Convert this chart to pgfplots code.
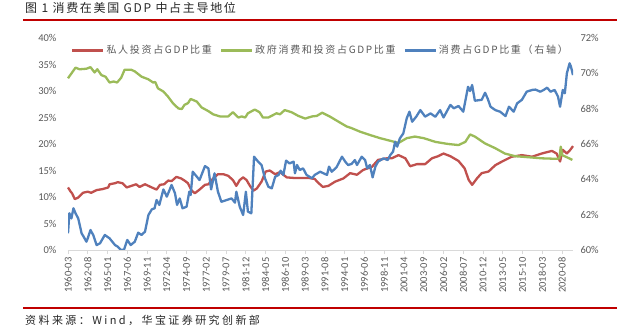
\documentclass[border=0pt]{standalone}
\usepackage{fontspec}
\setmainfont{Carlito}
\newfontfamily\cjk[LetterSpace=6]{Noto Sans CJK SC}
\newfontfamily\cjkleg[LetterSpace=17]{Noto Sans CJK SC}
\newfontfamily\cjktitle[LetterSpace=14]{Noto Sans CJK SC}
\newfontfamily\cjksrc[LetterSpace=22]{Noto Sans CJK SC}
\usepackage{pgfplots}
\pgfplotsset{compat=1.18}
\definecolor{cred}{HTML}{C0504D}
\definecolor{cgreen}{HTML}{9BBB59}
\definecolor{cblue}{HTML}{4F81BD}
\definecolor{tgray}{HTML}{595959}
\definecolor{agray}{HTML}{D9D9D9}
\definecolor{hred}{HTML}{C00000}

\pgfplotstableread{
m v
0 11.8
4 11.0
6 10.7
10 9.6
15 9.9
22 10.8
29 11.0
34 10.8
42 11.3
51 11.5
59 11.8
61 12.4
69 12.6
73 12.8
80 12.6
86 11.8
93 12.1
100 12.4
105 11.9
113 12.4
123 11.8
130 11.4
135 12.3
141 12.4
147 13.1
152 13.0
159 13.8
166 13.5
171 13.1
176 12.6
181 11.3
186 10.7
193 11.4
201 12.3
206 12.4
213 13.5
220 14.3
228 14.3
235 14.0
242 13.2
247 12.1
252 13.2
257 13.7
262 13.2
267 12.1
272 11.2
277 11.6
284 12.9
290 14.8
296 15.0
304 14.3
311 14.7
321 13.7
331 13.6
340 13.6
353 13.6
362 13.4
367 12.7
374 11.9
382 12.1
392 12.9
404 13.5
414 14.5
424 14.2
433 15.1
446 15.7
455 17.0
468 17.3
475 17.3
485 17.9
495 17.3
502 15.8
512 16.2
524 16.2
534 17.3
543 17.7
551 18.2
561 17.7
573 16.8
582 15.4
588 13.2
593 12.3
600 13.5
607 14.5
617 14.8
627 16.0
637 16.7
651 17.6
666 17.9
681 17.6
695 18.2
710 18.7
717 18.2
722 16.7
726 18.9
732 18.2
737 18.9
741 19.6
}\redtab

\pgfplotstableread{
m v
0 32.4
11 34.4
17 34.1
27 34.2
33 34.5
39 33.5
43 34.1
49 33.0
55 32.7
61 31.6
67 31.8
72 31.6
78 32.5
83 34.0
93 34.0
98 33.7
108 32.7
118 32.2
125 31.6
128 31.7
132 30.5
140 29.9
147 28.9
154 27.7
162 26.7
167 26.6
171 27.4
176 27.7
180 28.5
189 28.0
196 26.9
206 26.2
213 25.6
223 25.2
235 25.2
242 26.0
250 25.0
255 25.2
260 25.0
264 25.8
274 26.5
281 26.0
286 25.0
294 25.0
306 25.8
311 25.6
318 26.4
328 26.0
338 25.3
348 24.8
358 25.2
365 25.3
373 25.9
384 25.2
397 24.2
409 23.3
416 23.0
429 22.3
443 21.7
458 21.1
473 20.6
485 20.2
497 21.1
509 21.4
522 21.1
539 20.4
558 20.0
573 19.8
583 20.4
590 21.8
597 21.4
612 20.1
627 19.2
641 18.2
656 17.7
676 17.5
695 17.3
717 17.2
721 17.3
723 19.5
725 17.9
732 17.5
740 17.0
}\greentab

\pgfplotstableread{
m v
0 60.94
2 62.08
5 61.79
8 62.36
11 62.08
15 61.79
20 60.94
23 60.75
27 60.47
29 60.66
33 61.13
37 60.85
42 60.28
47 60.38
54 60.85
61 60.66
69 60.28
73 60.19
77 60.02
82 60.00
87 60.57
92 60.28
98 60.47
103 60.98
108 60.85
113 61.04
118 61.98
123 62.30
127 62.36
130 62.83
134 62.55
140 63.43
145 63.02
152 63.68
157 63.21
160 62.55
164 62.92
168 62.36
174 62.45
178 63.30
180 63.11
183 64.43
189 64.15
193 63.96
201 64.75
206 64.62
210 63.43
215 64.34
220 63.30
225 62.73
233 62.83
240 62.92
245 62.68
247 63.30
252 62.45
257 61.98
261 63.30
264 62.17
269 62.08
273 65.28
279 65.00
284 64.81
289 64.06
294 63.58
299 63.49
304 64.15
309 64.25
312 64.49
316 64.25
320 65.06
325 64.90
331 65.00
333 64.34
336 64.81
340 64.53
345 64.62
350 64.25
358 64.06
362 64.25
370 64.43
380 64.25
383 64.72
387 64.43
394 64.68
402 65.28
407 64.99
411 64.81
416 64.87
421 65.09
424 64.81
431 65.28
436 65.09
439 64.62
443 64.81
447 64.11
451 64.72
455 65.00
463 65.19
469 65.09
473 65.38
477 65.57
480 66.13
483 65.85
487 66.32
492 66.60
497 67.45
501 67.83
505 67.26
511 67.55
517 67.92
524 67.55
532 67.73
539 67.54
546 67.92
551 67.50
561 68.21
566 68.02
573 68.15
580 67.83
587 69.24
590 69.00
593 69.34
597 68.45
607 68.50
612 68.90
616 68.55
620 68.11
627 67.92
634 67.83
642 67.58
647 68.11
654 67.83
659 68.30
666 68.50
673 68.96
681 69.06
686 69.08
693 68.96
698 69.06
703 69.19
708 68.96
714 69.06
719 68.68
722 68.11
726 69.06
729 68.87
732 70.00
736 70.57
738 70.38
741 69.90
}\bluetab

\begin{document}
\begin{tikzpicture}[x=1pt,y=1pt]
\path[use as bounding box] (0,0) rectangle (625,330);
\node[anchor=west, font=\cjktitle\fontsize{12}{12}\selectfont, text=black!85, inner sep=0] at (25,322) {图 1 消费在美国 GDP 中占主导地位};
\draw[hred, line width=1.5pt] (23,310) -- (617,310);
\draw[hred, line width=1.2pt] (23,22) -- (617,22);
\node[anchor=west, font=\cjksrc\fontsize{11}{11}\selectfont, text=black!85, inner sep=0] at (25,10) {资料来源：Wind，华宝证券研究创新部};

\pgfplotsset{every axis/.append style={
  scale only axis, width=505pt, height=212pt,
  at={(68pt,80pt)}, anchor=south west,
  xmin=0, xmax=741,
  tick label style={font=\fontsize{10.5}{10.5}\selectfont, text=tgray},
}}

\begin{axis}[
  ymin=0, ymax=40,
  axis x line*=bottom, axis y line*=left,
  y axis line style={draw=none},
  x axis line style={draw=agray, line width=0.8pt},
  ytick={0,5,...,40},
  yticklabels={0\%,5\%,10\%,15\%,20\%,25\%,30\%,35\%,40\%},
  ytick style={draw=none},
  yticklabel style={xshift=-4pt},
  xtick={0,29,58,87,116,145,174,203,232,261,290,319,348,377,406,435,464,493,522,551,580,609,638,667,696,725},
  xticklabels={1960-03,1962-08,1965-01,1967-06,1969-11,1972-04,1974-09,1977-02,1979-07,1981-12,1984-05,1986-10,1989-03,1991-08,1994-01,1996-06,1998-11,2001-04,2003-09,2006-02,2008-07,2010-12,2013-05,2015-10,2018-03,2020-08},
  xticklabel style={rotate=90, anchor=east, xshift=0pt},
  tick align=outside, major tick length=4pt,
  xtick style={draw=agray, line width=0.8pt},
  clip=false,
]
\addplot[cred, line width=2.3pt, line join=round] table[x=m,y=v] {\redtab};
\addplot[cgreen, line width=2.3pt, line join=round] table[x=m,y=v] {\greentab};
\end{axis}

\begin{axis}[
  ymin=60, ymax=72,
  axis y line*=right, axis x line=none,
  y axis line style={draw=none},
  ytick={60,62,...,72},
  yticklabels={60\%,62\%,64\%,66\%,68\%,70\%,72\%},
  ytick style={draw=none},
  yticklabel style={xshift=4pt},
  legend columns=3,
  legend style={at={(0,0.985)}, anchor=north west, draw=none, fill=none,
    font=\cjkleg\fontsize{10}{10}\selectfont, text=tgray,
    /tikz/every even column/.append style={column sep=6pt}},
  legend cell align=left,
  legend image code/.code={\draw[#1] (0pt,0pt) -- (31pt,0pt);},
]
\addlegendimage{cred, line width=2.3pt}
\addlegendentry{私人投资占GDP比重}
\addlegendimage{cgreen, line width=2.3pt}
\addlegendentry{政府消费和投资占GDP比重}
\addplot[cblue, line width=2.3pt, line join=round] table[x=m,y=v] {\bluetab};
\addlegendentry{消费占GDP比重（右轴）}
\end{axis}
\end{tikzpicture}
\end{document}
